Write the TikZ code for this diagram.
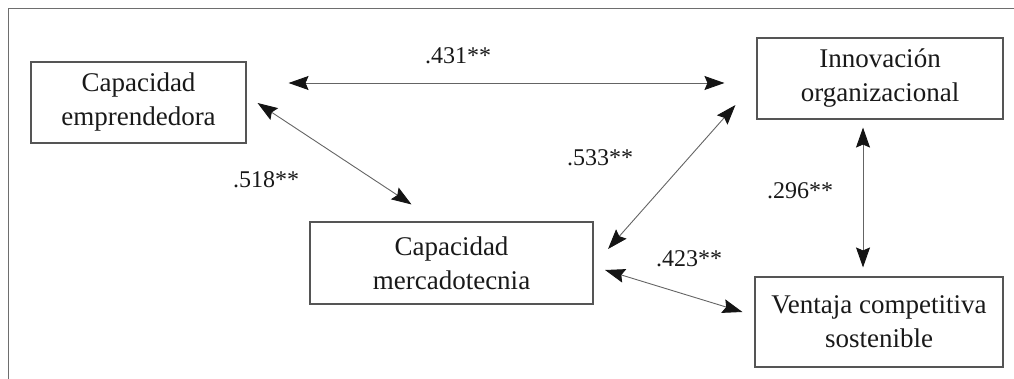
\documentclass[tikz,border=0pt]{standalone}
\usepackage{fontspec}
\setmainfont{Liberation Serif}
\usetikzlibrary{arrows.meta}
\definecolor{boxgray}{RGB}{85,85,85}
\definecolor{linegray}{RGB}{100,100,100}
\definecolor{framegray}{RGB}{110,110,110}
\definecolor{tipblack}{RGB}{20,20,20}
\definecolor{textblack}{RGB}{25,25,25}
\begin{document}
\begin{tikzpicture}[x=1pt,y=-1pt,
  box/.style={draw=boxgray, line width=1.1pt, inner sep=0pt, align=center,
    font=\fontsize{27}{34}\selectfont, text=textblack},
  lbl/.style={anchor=base, inner sep=0pt, font=\fontsize{24}{28}\selectfont, text=textblack},
  tip/.tip={Stealth[length=20pt,width=14pt,inset=3pt,color=tipblack]},
  conn/.style={draw=linegray, line width=0.9pt, tip-tip}
]
\useasboundingbox (0,0) rectangle (1014,379);
\draw[framegray, line width=1pt] (1014,9) -- (8,9) -- (8,379);

\node[box, minimum width=215pt, minimum height=81pt] (ce) at (138.5,102.5) {Capacidad\\emprendedora};
\node[box, minimum width=246pt, minimum height=81pt] (io) at (880,78.5) {Innovación\\organizacional};
\node[box, minimum width=248pt, minimum height=90pt] (vc) at (879,322) {Ventaja competitiva\\sostenible};
\node[box, minimum width=283pt, minimum height=82pt] (cm) at (451.5,263) {Capacidad\\mercadotecnia};

\draw[conn] ([shift={(42,-19.5)}]ce.east) -- ([shift={(-32,4.5)}]io.west);
\draw[conn] ([shift={(11,0.5)}]ce.east) -- ([shift={(-40,-17)}]cm.north);
\draw[conn] ([shift={(-21,26.5)}]io.west) -- ([shift={(14.5,-14)}]cm.east);
\draw[conn] ([shift={(11.5,7)}]cm.east) -- ([shift={(-12,-10)}]vc.west);
\draw[conn] ([shift={(-17,8)}]io.south) -- ([shift={(-16,-9)}]vc.north);

\node[lbl] (l1) at (458,64) {.431**};
\node[lbl] (l2) at (266,188) {.518**};
\node[lbl] (l3) at (600,166) {.533**};
\node[lbl] (l4) at (800,199) {.296**};
\node[lbl] (l5) at (689,267) {.423**};
\end{tikzpicture}
\end{document}
